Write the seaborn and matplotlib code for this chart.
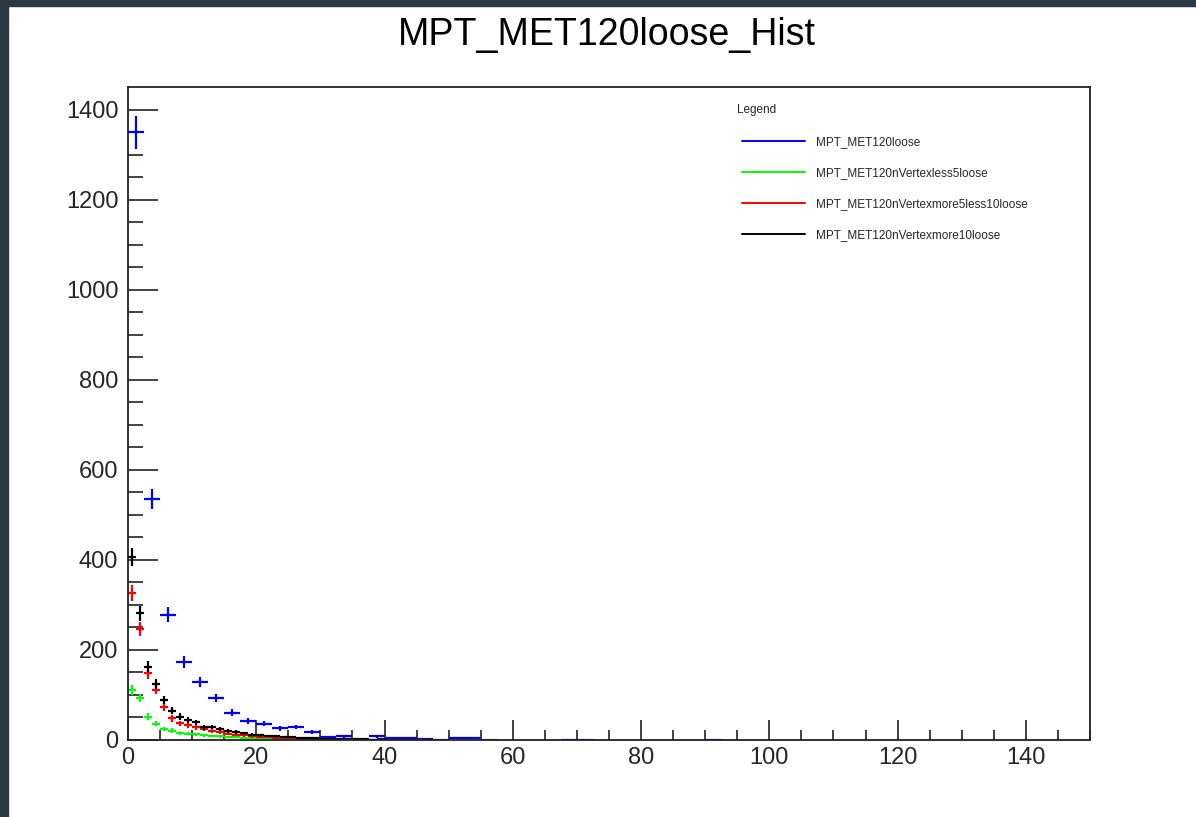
import numpy as np
import pandas as pd
import matplotlib
matplotlib.use("Agg")
import matplotlib.pyplot as plt
from matplotlib.lines import Line2D
from matplotlib.patches import Rectangle
import seaborn as sns

# Histogram binning (x range 0-150)
x_min, x_max = 0.0, 150.0
n_bins_total = 60      # MPT_MET120loose
n_bins_split = 120     # nVertex-split histograms

# Bin contents
total_counts = [1349, 535, 278, 174, 128, 93, 60, 43, 36, 26, 29, 18, 6, 8, 0, 8,
                5, 5, 2, 1, 5, 4, 0, 0, 0, 0, 0, 1, 1, 0, 0, 0, 0, 0, 0, 0, 1] + [0] * 23
less5_counts = [111, 93, 52, 36, 24, 21, 15, 14, 13, 11, 9, 8, 7, 6, 5, 5, 4, 3, 3, 3,
                2, 2, 2, 1, 2, 1, 1, 1, 0, 1, 0, 0, 1, 0, 0, 0, 0, 0, 0, 0,
                0, 0, 0, 1] + [0] * 76
more5less10_counts = [326, 246, 148, 112, 74, 48, 37, 33, 28, 24, 20, 17, 14, 12, 10, 8,
                      7, 6, 5, 5, 4, 3, 3, 2, 3, 2, 1, 2, 1, 1, 1, 0, 0, 0, 0, 0,
                      1, 0, 0, 0, 0, 0, 0, 0, 1, 1] + [0] * 74
more10_counts = [407, 281, 163, 125, 89, 65, 52, 45, 39, 28, 29, 24, 20, 17, 15, 12,
                 11, 9, 8, 7, 6, 5, 5, 4, 3, 3, 3, 2, 2, 2, 1, 2, 1, 1, 1, 1,
                 0, 1] + [0] * 82

series_names = ["MPT_MET120loose", "MPT_MET120nVertexless5loose",
                "MPT_MET120nVertexmore5less10loose", "MPT_MET120nVertexmore10loose"]
series_counts = [total_counts, less5_counts, more5less10_counts, more10_counts]
series_nbins = [n_bins_total, n_bins_split, n_bins_split, n_bins_split]
series_colors = ["#0000ff", "#00ff00", "#ff0000", "#000000"]

title_text = "MPT_MET120loose_Hist"
legend_title = "Legend"
y_max = 1450
x_ticks = [0, 20, 40, 60, 80, 100, 120, 140]
y_ticks = [0, 200, 400, 600, 800, 1000, 1200, 1400]

# Long-form table of all bins
frames = []
for name, counts, nb in zip(series_names, series_counts, series_nbins):
    edges = np.linspace(x_min, x_max, nb + 1)
    frames.append(pd.DataFrame({
        "series": name,
        "center": 0.5 * (edges[:-1] + edges[1:]),
        "halfwidth": 0.5 * np.diff(edges),
        "count": np.asarray(counts, dtype=float),
    }))
df = pd.concat(frames, ignore_index=True)
df["err"] = np.sqrt(df["count"])

sns.set_theme(style="ticks")
plt.rcParams["font.family"] = ["Liberation Sans", "DejaVu Sans"]

fig = plt.figure(figsize=(11.96, 8.17), dpi=100)
fig.patch.set_facecolor("white")
ax = fig.add_axes([128 / 1196, 77 / 817, 962 / 1196, 653 / 817])

palette = dict(zip(series_names, series_colors))
for name in series_names:
    sub = df[(df["series"] == name) & (df["count"] > 0)]
    ax.errorbar(sub["center"], sub["count"], xerr=sub["halfwidth"], yerr=sub["err"],
                fmt="none", ecolor=palette[name], elinewidth=1.6, capsize=0)

ax.set_xlim(x_min, x_max)
ax.set_ylim(0, y_max)
ax.set_xticks(x_ticks)
ax.set_yticks(y_ticks)
ax.set_xticks(np.arange(0, 150.1, 5), minor=True)
ax.set_yticks(np.arange(0, y_max, 50), minor=True)

for side in ["left", "bottom", "top", "right"]:
    ax.spines[side].set_visible(True)
    ax.spines[side].set_linewidth(1.3)
    ax.spines[side].set_color("#222222")

ax.tick_params(axis="y", which="major", direction="in", length=21.5, width=1.2,
               labelsize=17, pad=7, color="#222222")
ax.tick_params(axis="y", which="minor", direction="in", length=10.5, width=1.2,
               color="#222222")
ax.tick_params(axis="x", which="major", direction="in", length=14.5, width=1.2,
               labelsize=17, pad=5, color="#222222")
ax.tick_params(axis="x", which="minor", direction="in", length=7.2, width=1.2,
               color="#222222")
ax.set_xlabel("")
ax.set_ylabel("")
ax.grid(False)

fig.text(607 / 1196, 1 - 35 / 817, title_text, ha="center", va="center",
         fontsize=27, color="black")

# Legend: header text plus line entries
ax.text((737 - 128) / 962, (740 - 110) / 653, legend_title, transform=ax.transAxes,
        ha="left", va="center", fontsize=8.5)
handles = [Line2D([0], [0], color=c, lw=1.4) for c in series_colors]
leg = ax.legend(handles, series_names, loc="upper left",
                bbox_to_anchor=((742 - 128) / 962, (740 - 136) / 653),
                frameon=False, fontsize=8.5,
                handlelength=5.3, handletextpad=1.0, labelspacing=1.6,
                borderpad=0, borderaxespad=0)

# Dark frame strips along the top and left edges
fig.add_artist(Rectangle((0, 1 - 6 / 817), 1, 6 / 817, transform=fig.transFigure,
                         color="#2b3a42", zorder=10))
fig.add_artist(Rectangle((0, 0), 8 / 1196, 1, transform=fig.transFigure,
                         color="#2b3a42", zorder=10))

fig.savefig("out.png", dpi=100)
